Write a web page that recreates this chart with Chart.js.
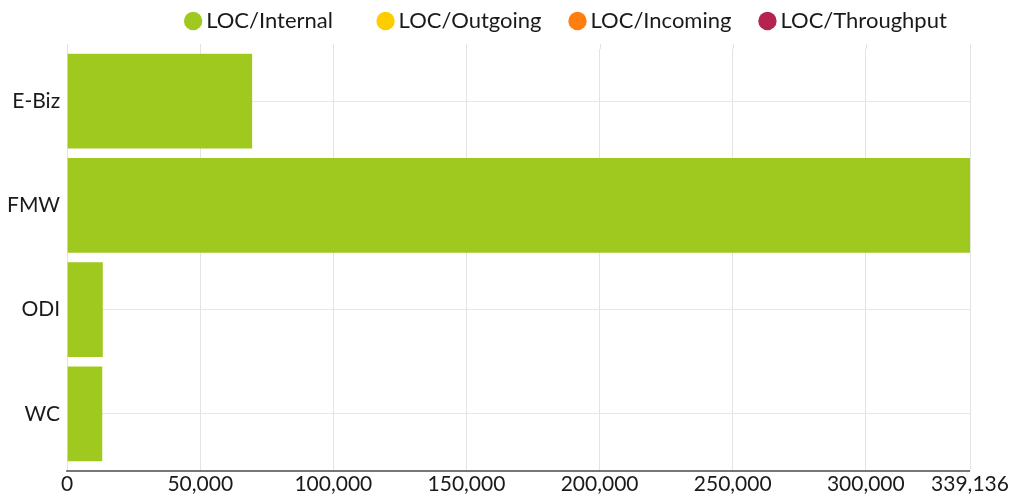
<!DOCTYPE html>
<html><head><meta charset="utf-8">
<script src="https://cdn.jsdelivr.net/npm/chart.js@4"></script>
<style>html,body{margin:0;padding:0;background:#fff}#wrap{width:1020px;height:498px;position:relative}</style>
</head><body><div id="wrap"><canvas id="c"></canvas></div>
<script>
const categories = ['E-Biz', 'FMW', 'ODI', 'WC'];
const seriesNames = ['LOC/Internal', 'LOC/Outgoing', 'LOC/Incoming', 'LOC/Throughput'];
const locInternal = [69500, 339136, 13400, 13200];
const locOutgoing = [0, 0, 0, 0];
const locIncoming = [0, 0, 0, 0];
const locThroughput = [0, 0, 0, 0];
const xTickValues = [0, 50000, 100000, 150000, 200000, 250000, 300000, 339136];
const seriesColors = ['#9fc91f', '#ffcc00', '#ff7f0e', '#b5234f'];

const FONT = "'Source Sans Pro', Lato, 'Open Sans', sans-serif";
Chart.defaults.font.family = FONT;
Chart.defaults.font.size = 21;
Chart.defaults.color = '#1a1a1a';

const seriesData = [locInternal, locOutgoing, locIncoming, locThroughput];
const LEGEND_DX = 84;

const legendShift = {
  id: 'legendShift',
  afterLayout(chart) {
    const l = chart.legend;
    if (!l) return;
    l.left += LEGEND_DX; l.right += LEGEND_DX;
    l.top -= 7; l.bottom -= 7;
  }
};

const axisExtras = {
  id: 'axisExtras',
  afterDraw(chart) {
    const {ctx, chartArea, scales} = chart;
    const x = scales.x;
    ctx.save();
    ctx.strokeStyle = '#e3e3e3';
    ctx.lineWidth = 1;
    x.ticks.forEach(t => {
      const px = Math.round(x.getPixelForValue(t.value)) + 0.5;
      ctx.beginPath();
      ctx.moveTo(px, chartArea.top - 5);
      ctx.lineTo(px, chartArea.top);
      ctx.stroke();
    });
    ctx.strokeStyle = '#4a4a4a';
    ctx.lineWidth = 1.6;
    ctx.beginPath();
    ctx.moveTo(chartArea.left - 1, chartArea.bottom + 5);
    ctx.lineTo(chartArea.right, chartArea.bottom + 5);
    ctx.stroke();
    ctx.restore();
  }
};

new Chart(document.getElementById('c'), {
  type: 'bar',
  data: {
    labels: categories,
    datasets: seriesNames.map((name, i) => ({
      label: name,
      data: seriesData[i],
      backgroundColor: seriesColors[i],
      borderWidth: 0,
      categoryPercentage: 0.91,
      barPercentage: 1.0
    }))
  },
  options: {
    indexAxis: 'y',
    responsive: true,
    maintainAspectRatio: false,
    animation: false,
    layout: { padding: { left: 0, right: 50, top: -17, bottom: 0 } },
    plugins: {
      tooltip: { enabled: false },
      legend: {
        position: 'top',
        align: 'center',
        labels: {
          usePointStyle: true,
          pointStyle: 'circle',
          boxWidth: 4,
          boxHeight: 13,
          padding: 34,
          color: '#1a1a1a',
          font: { size: 22, family: FONT },
          generateLabels(chart) {
            const items = Chart.defaults.plugins.legend.labels.generateLabels(chart);
            if (items.length) items[0].text = items[0].text + '\u2002 ';
            return items;
          }
        }
      }
    },
    scales: {
      x: {
        stacked: true,
        min: 0,
        max: 339136,
        afterBuildTicks(scale) { scale.ticks = xTickValues.map(v => ({ value: v })); },
        ticks: {
          autoSkip: false,
          maxRotation: 0,
          padding: 3,
          color: '#1a1a1a',
          font: { size: 21, lineHeight: 1.0 },
          callback: v => Number(v).toLocaleString('en-US')
        },
        grid: { color: '#e3e3e3', lineWidth: 1, tickLength: 5, drawTicks: true },
        border: { display: false }
      },
      y: {
        stacked: true,
        ticks: { padding: 7, color: '#1a1a1a', font: { size: 21 } },
        grid: { color: '#e6e6e6', lineWidth: 1, offset: false, drawTicks: false },
        border: { display: false }
      }
    }
  },
  plugins: [legendShift, axisExtras]
});
</script>
</body></html>
